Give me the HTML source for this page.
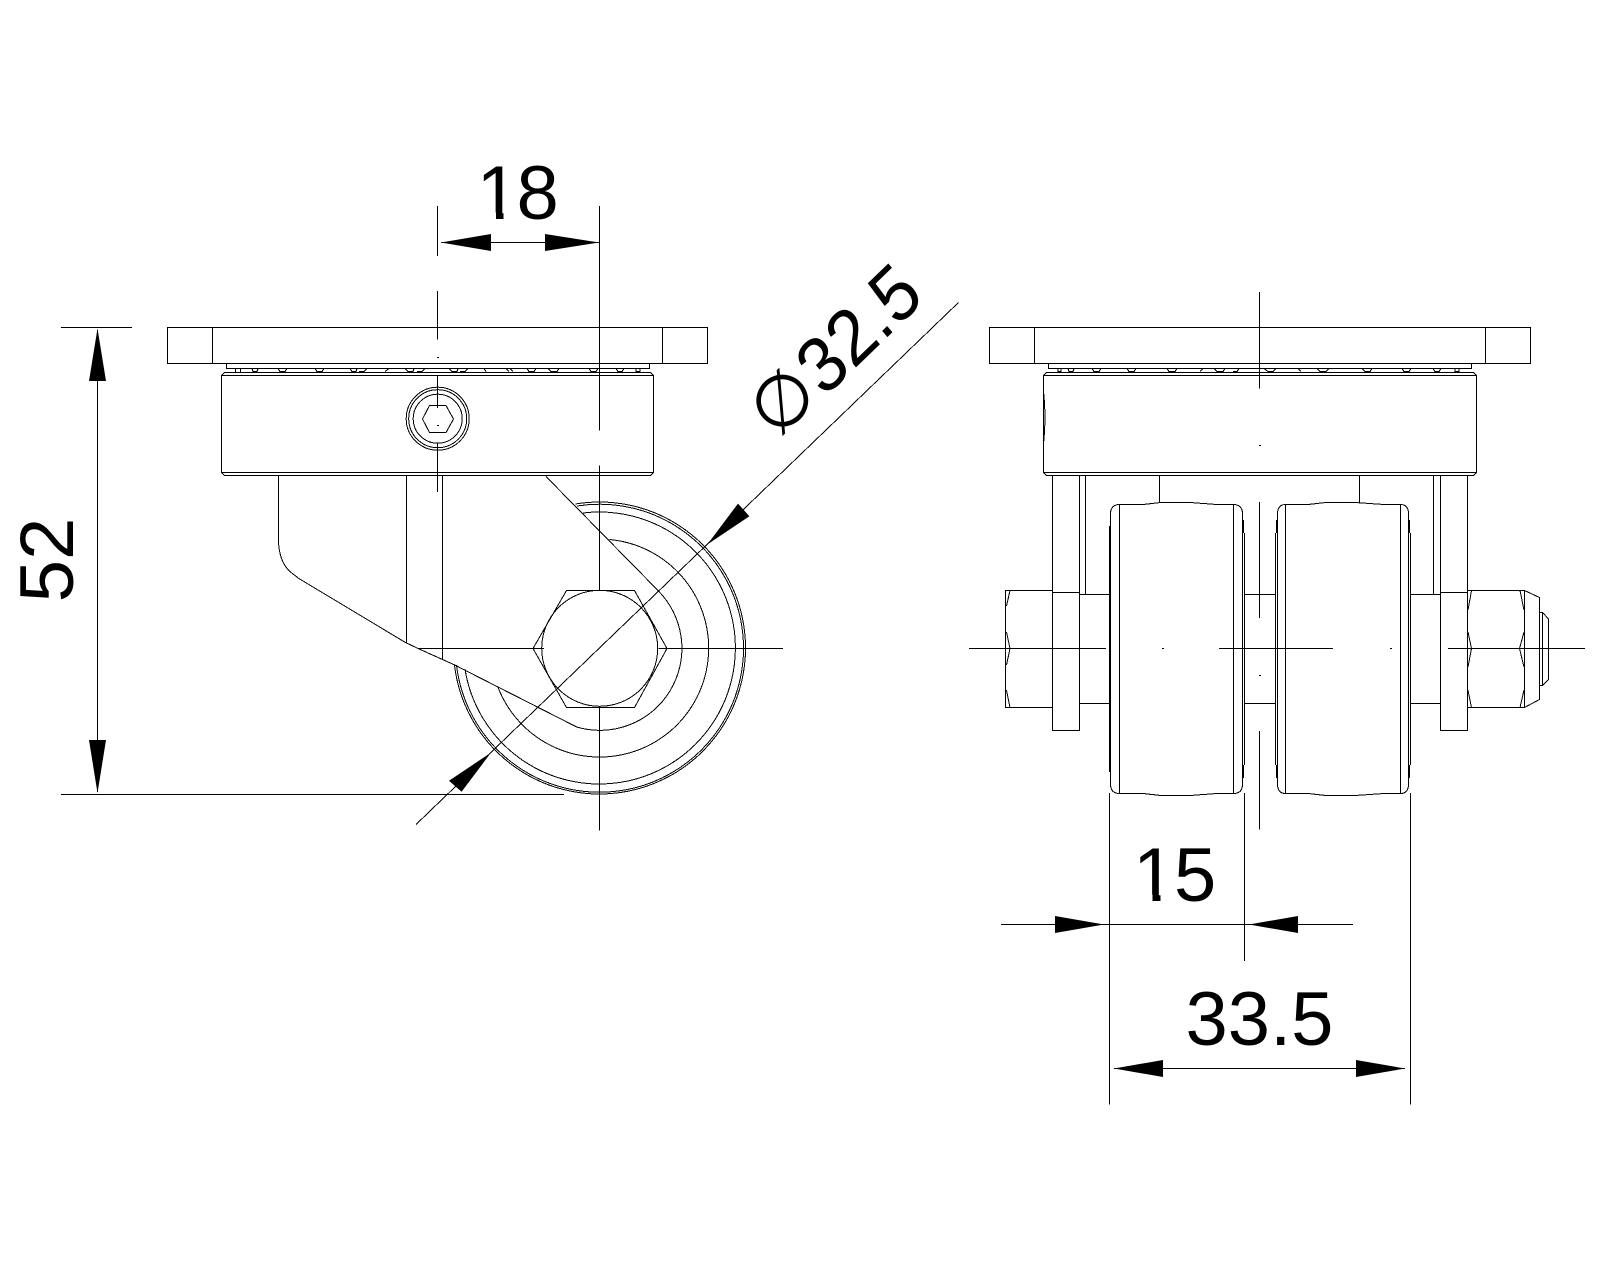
<!DOCTYPE html>
<html><head><meta charset="utf-8"><title>Caster drawing</title>
<style>html,body{margin:0;padding:0;background:#fff}svg{display:block}text{font-family:"Liberation Sans",sans-serif;font-size:76px;fill:#000;stroke:none}</style></head>
<body>
<svg xmlns="http://www.w3.org/2000/svg" width="1600" height="1280" viewBox="0 0 1600 1280">
<rect width="1600" height="1280" fill="#fff"/>
<g fill="none" stroke="#000" stroke-width="1" shape-rendering="crispEdges">
<!-- LEFT VIEW -->
<rect x="167.5" y="327.5" width="540" height="36"/>
<path d="M212.5 327.5V363.5M662.5 327.5V363.5"/>
<path d="M226.5 363.5V368.5H649.5V363.5"/>
<path d="M226.5 368.5H649.5M235.5 368.5V372M240.5 368.5V372"/>
<path d="M252 368.5l1 3h4l1-3M278 368.5l2 3h5l2-3M315 368.5l2 3h5l2-3M350 368.5l2 3h4l1-3M359 371.5h5l3-3M385 371.5l4-3M405 368.5l3 3h5l1-3M417 371.5h5l3-3M449 368.5l3 3h5l1-3M460 371.5h5l3-3M484 368.5l2 3 M513 371.5l-3-3M506 368.5l3 3M527 368.5l2 3h5l2-3M548 368.5l3 3h6l2-3M589 368.5l2 3h5l2-3M616 368.5l2 3h4l2-3M636 368.5v3h4v-3"/>
<path d="M224.5 372.5H650.5L653.5 375.5V472.5L650.5 475.5H224.5L221.5 472.5V375.5Z"/>
<path d="M221.5 375.5H653.5M221.5 472.5H653.5"/>
<!-- socket bolt -->
<circle cx="437.7" cy="418.7" r="31.5"/><circle cx="437.7" cy="418.7" r="29"/><circle cx="437.7" cy="418.7" r="24.5"/>
<path d="M429.5 405.5H446L453.5 419L446 432.5H429.5L422.5 419Z"/>
<!-- wheel arcs -->
<path d="M454.5 665A146 146 0 1 0 575.5 504"/>
<path d="M456.5 665A144 144 0 1 0 577 506"/>
<path d="M465 669A136 136 0 1 0 583 513"/>
<path d="M497.5 686A109 109 0 1 0 609.5 539.5"/>
<path d="M576.7 727A82 82 0 0 0 658.5 591"/>
<!-- axle -->
<circle cx="599.7" cy="648.3" r="58"/>
<path d="M566.5 590.5H634.5L667 648.5L634.5 707.5H566.5L533 648.5Z"/>
<!-- arm -->
<path d="M278.5 475V543Q280 565 293 574L299 578.6L405.3 642.4L417.6 648.3L454.3 664.8L576.7 727"/>
<path d="M546 476.5L658.5 591"/>
<path d="M406.5 475V643M442.5 475V660"/>
<!-- centre lines -->
<path d="M437.5 206V256M437.5 291V339.5M437.5 375V408M437.5 443V492"/>
<path d="M599.5 206V430.5M599.5 465.5V590M599.5 707V830.5"/>
<path d="M417.5 648.5H544M658.5 648.5H783"/>
<path d="M437 357.5h2M437 425.5h2"/>
<!-- dim 18 -->
<path d="M441 242.5H599"/>
<!-- dim 52 -->
<path d="M61 327.5H132M61 794.5H564M97.5 330V792"/>
<!-- diameter leader -->
<path d="M958.5 302.5L416 824.5"/>

<!-- RIGHT VIEW -->
<rect x="989.5" y="327.5" width="541" height="36"/>
<path d="M1034.5 327.5V363.5M1485.5 327.5V363.5"/>
<path d="M1048.5 363.5V368.5H1471.5V363.5"/>
<path d="M1058 368.5v3h3v-3M1068 368.5l1 3h4l1-3M1092 368.5l2 3h5l2-3M1127 368.5l2 3h5l2-3M1167 368.5l2 3h6l2-3M1200 371.5l3-3M1214 368.5l3 3h6l2-3M1233 371.5h4l2-3M1264 368.5l4 3h5l3-3M1298 368.5l3 3M1317 368.5l3 3h6l3 -3M1362 368.5l3 3h5l2-3M1402 368.5l2 3h5l2-3M1433 368.5l2 3h4l2-3M1455 368.5v3h4v-3"/>
<path d="M1046.5 372.5H1473.5L1476.5 375.5V472.5L1473.5 475.5H1046.5L1043.5 472.5V375.5Z"/>
<path d="M1043.5 375.5H1476.5M1043.5 472.5H1476.5"/>
<path d="M1043.5 391Q1046.5 417 1043.5 444"/>
<!-- side plates -->
<path d="M1052.5 475V730.5H1079.5V475M1052.5 592.5H1079.5"/>
<path d="M1440.5 475V730.5H1467.5V475M1440.5 592.5H1467.5"/>
<path d="M1085.5 475V594M1433.5 475V594"/>
<!-- shaft -->
<path d="M1079.5 594.5H1110M1079.5 703.5H1110M1244.5 594.5H1276M1244.5 703.5H1276M1410 594.5H1440.5M1410 703.5H1440.5"/>
<path d="M1159.5 475V503M1359.5 475V503"/>
<!-- left head -->
<path d="M1052.5 590.5H1005.5V707.5H1052.5"/>
<path d="M1010 590.5L1006.5 606M1006.5 632L1010 648.5L1006.5 665M1006.5 690L1010 707.5"/>
<!-- right nut -->
<path d="M1467.5 590.5H1524.5V707.5H1467.5"/>
<path d="M1471.5 590.5L1468 610M1468 632L1471.5 648.5L1468 667M1468 690L1471.5 707.5"/>
<path d="M1520 590.5L1524 610M1524 632L1519.5 648.5L1524 667M1524 690L1520 707.5"/>
<path d="M1524.5 590.5L1539.5 597.5V699.5L1524.5 707.5"/>
<path d="M1540 612.5H1542.5L1548.5 619V679.5L1542.5 685.5H1540M1542.5 612.5V685.5"/>
<!-- wheel 1 -->
<path d="M1119.5 504.5H1143L1161 502.5H1190L1217 504.5H1233.5Q1242.5 504.5 1242.5 514V784Q1242.5 793.5 1233.5 793.5H1217L1190 795.5H1161L1143 793.5H1119.5Q1110.5 793.5 1110.5 784V514Q1110.5 504.5 1119.5 504.5Z"/>
<path d="M1119.5 504.5V793.5M1233.5 504.5V793.5"/>
<path d="M1109.5 526V772M1243.5 520V533M1243.5 765V778M1244.5 533V765"/>
<!-- wheel 2 -->
<path d="M1285.5 504.5H1308L1326 502.5H1355L1384 504.5H1400.5Q1408.5 504.5 1408.5 514V784Q1408.5 793.5 1400.5 793.5H1384L1355 795.5H1326L1308 793.5H1285.5Q1277.5 793.5 1277.5 784V514Q1277.5 504.5 1285.5 504.5Z"/>
<path d="M1285.5 504.5V793.5M1400.5 504.5V793.5"/>
<path d="M1276.5 520V533M1276.5 765V778M1275.5 533V765M1409.5 520V533M1409.5 765V778M1410.5 533V765"/>
<!-- right centre lines -->
<path d="M1259.5 292V388.5M1259.5 502V618M1259.5 731V829.5"/>
<path d="M969 648.5H1106M1219 648.5H1333M1448 648.5H1585"/>
<path d="M1259 445.5h2M1162 648.5h2M1390 648.5h2M1259 675.5h2"/>
<!-- dims right -->
<path d="M1109.5 793V1104.5M1244.5 793V961M1410.5 793V1104.5"/>
<path d="M1001 924.5H1353"/>
<path d="M1114 1068.5H1405"/>
</g>
<g fill="#000" stroke="none">
<polygon points="441,242.5 491,234 491,251"/>
<polygon points="599,242.5 545,234 545,251"/>
<polygon points="97.5,328.5 89,381 106,381"/>
<polygon points="97.5,793 89,740 106,740"/>
<polygon points="707.3,544.5 738,503.6 749.4,516.3"/>
<polygon points="491,752.6 449,780.8 461.6,791.8"/>
<polygon points="1104,924.5 1055,916 1055,933"/>
<polygon points="1249,924.5 1298,916 1298,933"/>
<polygon points="1114,1068.5 1163,1060 1163,1077"/>
<polygon points="1405,1068.5 1356,1060 1356,1077"/>
</g>
<text x="476.5 516.5" y="219">18</text>
<text x="1133 1174" y="901">15</text>
<!-- remove the foot serif of the digit 1 -->
<g fill="#fff" stroke="none">
<rect x="480" y="212.5" width="16" height="8"/><rect x="503.5" y="212.5" width="14" height="8"/>
<rect x="1136.5" y="894.5" width="16" height="8"/><rect x="1160.5" y="894.5" width="14" height="8"/>
</g>
<text x="1259.5" y="1045" text-anchor="middle">33.5</text>
<text transform="translate(73,560) rotate(-90)" text-anchor="middle">52</text>
<text transform="translate(875.3,348.8) rotate(-44) skewX(-4) scale(0.96,1)" text-anchor="middle">32.5</text>
<text transform="translate(781.7,400) rotate(-44)" y="26" text-anchor="middle" style="font-family:'DejaVu Sans',sans-serif;font-size:72px">∅</text>
</svg>
</body></html>
